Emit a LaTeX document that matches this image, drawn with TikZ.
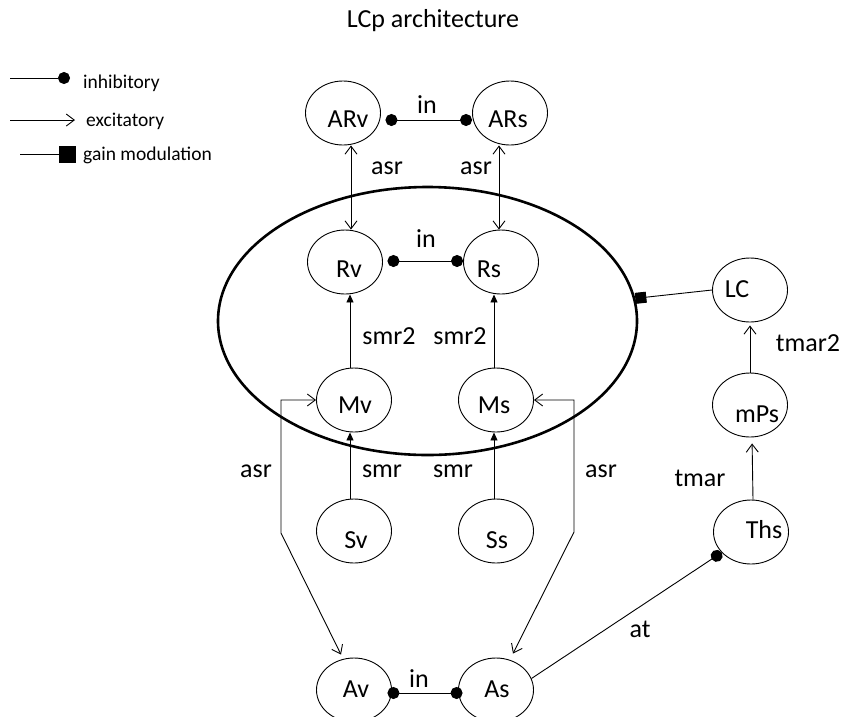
\documentclass[tikz,border=0pt]{standalone}
\usepackage{fontspec}
\setmainfont{Carlito}
\usetikzlibrary{shapes.geometric,arrows.meta}
\tikzset{
  unit/.style={ellipse, draw, line width=0.9pt, minimum width=75pt, minimum height=64pt, inner sep=0pt},
  area/.style={ellipse, draw, line width=2.6pt, minimum width=419pt, minimum height=268pt, inner sep=0pt},
  lbl/.style={font=\fontsize{26}{30}\selectfont, anchor=base, inner sep=0pt},
  leg/.style={font=\fontsize{19.5}{23}\selectfont, anchor=base west, inner sep=0pt},
  conn/.style={line width=0.9pt},
  exc/.style={conn, -{Straight Barb[length=8pt,width=12pt]}},
  bexc/.style={conn, {Straight Barb[length=8pt,width=12pt]}-{Straight Barb[length=8pt,width=12pt]}},
  drv/.style={conn, -{Triangle[length=8pt,width=7pt]}},
  inhib/.style={conn, {Circle[length=12pt]}-{Circle[length=12pt]}},
  inhend/.style={conn, -{Circle[length=12pt]}},
  gain/.style={conn, -{Square[length=11pt]}},
}
\begin{document}
\begin{tikzpicture}[x=1pt,y=-1pt]
\useasboundingbox (0,0) rectangle (843,716);

% title
\node[lbl] (title) at (433,27) {LCp architecture};

% legend
\coordinate (li1) at (10,78); \coordinate (li2) at (70,78);
\draw[inhend] (li1) -- (li2);
\node[leg] (linh) at (83,88) {inhibitory};
\coordinate (le1) at (10,120); \coordinate (le2) at (75,120);
\draw[exc] (le1) -- (le2);
\node[leg] (lexc) at (86,126) {excitatory};
\coordinate (lg1) at (20,154); \coordinate (lg2) at (76,154);
\draw[conn, -{Square[length=17pt]}] (lg1) -- (lg2);
\node[leg] (lgain) at (83,160) {gain modulation};

% big ellipse
\node[area] (Area) at (427.5,321) {};

% units
\node[unit] (ARv) at (343,113) {};
\node[unit] (ARs) at (510,113) {};
\node[unit] (Rv) at (345,262) {};
\node[unit] (Rs) at (501,262) {};
\node[unit] (Mv) at (354,400) {};
\node[unit] (Ms) at (496,400) {};
\node[unit] (Sv) at (354,531) {};
\node[unit] (Ss) at (496,531) {};
\node[unit] (Av) at (354,690) {};
\node[unit] (As) at (496,690) {};
\node[unit] (LC) at (750,290) {};
\node[unit] (mPs) at (750,405) {};
\node[unit] (Ths) at (751,532) {};

% unit labels
\node[lbl] (tARv) at (348,127) {ARv};
\node[lbl] (tARs) at (508,127) {ARs};
\node[lbl] (tRv) at (349,277) {Rv};
\node[lbl] (tRs) at (489,277) {Rs};
\node[lbl] (tMv) at (355,413) {Mv};
\node[lbl] (tMs) at (494,413) {Ms};
\node[lbl] (tSv) at (356,548) {Sv};
\node[lbl] (tSs) at (497,548) {Ss};
\node[lbl] (tAv) at (356,697) {Av};
\node[lbl] (tAs) at (497,697) {As};
\node[lbl] (tLC) at (737,297) {LC};
\node[lbl] (tmPs) at (757,422) {mPs};
\node[lbl] (tThs) at (764,538) {Ths};

% connectors
\draw[inhib] ([xshift=4.5pt,yshift=-7pt]ARv.east) -- ([yshift=-7pt]ARs.west);
\draw[inhib] ([xshift=4.5pt,yshift=1pt]Rv.east) -- ([yshift=1pt]Rs.west);
\draw[inhib] ([xshift=-4.5pt,yshift=-3pt]Av.east) -- ([xshift=4.5pt,yshift=-3pt]As.west);

\draw[bexc] ([xshift=8pt]ARv.south) -- ([xshift=6pt]Rv.north);
\draw[bexc] ([xshift=-11pt]ARs.south) -- ([xshift=-2pt]Rs.north);

\draw[drv] ([xshift=-4pt]Mv.north) -- ([xshift=5pt]Rv.south);
\draw[drv] ([xshift=-2pt]Ms.north) -- ([xshift=-7pt]Rs.south);
\draw[drv] ([xshift=-4pt]Sv.north) -- ([xshift=-4pt]Mv.south);
\draw[drv] ([xshift=-2pt]Ss.north) -- ([xshift=-2pt]Ms.south);

\coordinate (bl) at (281,533);
\coordinate (br) at (574,532);
\draw[bexc] ([xshift=-13pt,yshift=3pt]Av.north) -- (bl) |- (Mv.west);
\draw[bexc] ([xshift=17pt,yshift=4pt]As.north) -- (br) |- (Ms.east);

\draw[exc, shorten >=3pt] (mPs) -- (LC);
\draw[exc, shorten >=6pt] ([xshift=2pt]Ths.north) -- ([xshift=2pt]mPs.south);

\draw[inhend] (As.18) -- (Ths.215);
\draw[gain] (LC.west) -- (Area);

% connector labels
\node[lbl] at (427,113) {in};
\node[lbl] at (426,247) {in};
\node[lbl] at (419,687) {in};
\node[lbl] at (387,174) {asr};
\node[lbl] at (476,174) {asr};
\node[lbl] at (256,477) {asr};
\node[lbl] at (601,477) {asr};
\node[lbl] at (389,344) {smr2};
\node[lbl] at (460,344) {smr2};
\node[lbl] at (382,477) {smr};
\node[lbl] at (453,477) {smr};
\node[lbl] at (808,351) {tmar2};
\node[lbl] at (700,486) {tmar};
\node[lbl] at (640,637) {at};
\end{tikzpicture}
\end{document}
